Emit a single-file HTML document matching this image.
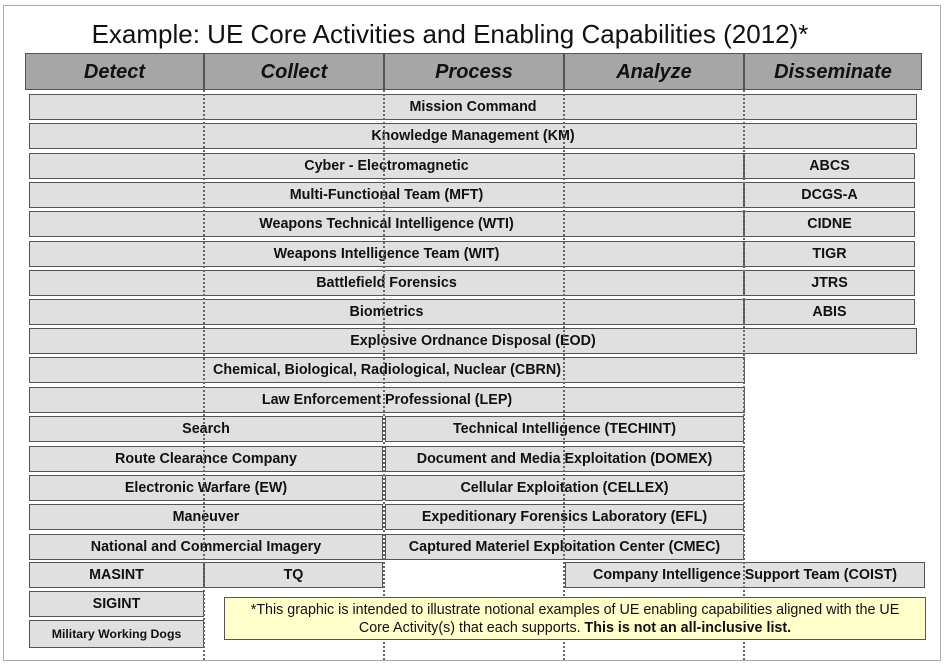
<!DOCTYPE html>
<html><head><meta charset="utf-8"><style>
body{margin:0;width:947px;height:667px;background:#fff;position:relative;overflow:hidden;font-family:"Liberation Sans",sans-serif}
.frame{position:absolute;left:3px;top:5px;width:938px;height:656px;border:1px solid #aaa;box-sizing:border-box}
.t{position:absolute;left:0;width:900px;top:19px;text-align:center;font-size:26px;letter-spacing:0px;color:#111}
.h{position:absolute;top:53px;height:37px;background:#a6a6a6;border:1.5px solid #555;box-sizing:border-box;font-weight:bold;font-style:italic;font-size:20px;text-align:center;line-height:37px;color:#111}
.b{position:absolute;height:26px;background:#e0e0e0;border:1.5px solid #555;box-sizing:border-box;font-weight:bold;font-size:14.3px;text-align:center;line-height:25px;color:#111}
.v{position:absolute;top:90px;height:570px;border-left:2.5px dotted #666;width:0}
.note{position:absolute;left:224px;top:597px;width:702px;height:43px;background:#ffffcc;border:1.5px solid #555;box-sizing:border-box;font-size:14.3px;text-align:center;line-height:18px;padding:3px 4px 0;color:#111}
</style></head><body>
<div class="frame"></div>
<div class="t">Example: UE Core Activities and Enabling Capabilities (2012)*</div>
<div class="h" style="left:25px;width:179px">Detect</div>
<div class="h" style="left:204px;width:180px">Collect</div>
<div class="h" style="left:384px;width:180px">Process</div>
<div class="h" style="left:564px;width:180px">Analyze</div>
<div class="h" style="left:744px;width:178px">Disseminate</div>

<div class="b" style="left:29px;top:94px;width:888px">Mission Command</div>
<div class="b" style="left:29px;top:123px;width:888px">Knowledge Management (KM)</div>
<div class="b" style="left:29px;top:153px;width:715px">Cyber - Electromagnetic</div>
<div class="b" style="left:744px;top:153px;width:171px">ABCS</div>
<div class="b" style="left:29px;top:182px;width:715px">Multi-Functional Team (MFT)</div>
<div class="b" style="left:744px;top:182px;width:171px">DCGS-A</div>
<div class="b" style="left:29px;top:211px;width:715px">Weapons Technical Intelligence (WTI)</div>
<div class="b" style="left:744px;top:211px;width:171px">CIDNE</div>
<div class="b" style="left:29px;top:241px;width:715px">Weapons Intelligence Team (WIT)</div>
<div class="b" style="left:744px;top:241px;width:171px">TIGR</div>
<div class="b" style="left:29px;top:270px;width:715px">Battlefield Forensics</div>
<div class="b" style="left:744px;top:270px;width:171px">JTRS</div>
<div class="b" style="left:29px;top:299px;width:715px">Biometrics</div>
<div class="b" style="left:744px;top:299px;width:171px">ABIS</div>
<div class="b" style="left:29px;top:328px;width:888px">Explosive Ordnance Disposal (EOD)</div>
<div class="b" style="left:29px;top:357px;width:716px">Chemical, Biological, Radiological, Nuclear (CBRN)</div>
<div class="b" style="left:29px;top:387px;width:716px">Law Enforcement Professional (LEP)</div>
<div class="b" style="left:29px;top:416px;width:354px">Search</div>
<div class="b" style="left:385px;top:416px;width:359px">Technical Intelligence (TECHINT)</div>
<div class="b" style="left:29px;top:446px;width:354px">Route Clearance Company</div>
<div class="b" style="left:385px;top:446px;width:359px">Document and Media Exploitation (DOMEX)</div>
<div class="b" style="left:29px;top:475px;width:354px">Electronic Warfare (EW)</div>
<div class="b" style="left:385px;top:475px;width:359px">Cellular Exploitation (CELLEX)</div>
<div class="b" style="left:29px;top:504px;width:354px">Maneuver</div>
<div class="b" style="left:385px;top:504px;width:359px">Expeditionary Forensics Laboratory (EFL)</div>
<div class="b" style="left:29px;top:534px;width:354px">National and Commercial Imagery</div>
<div class="b" style="left:385px;top:534px;width:359px">Captured Materiel Exploitation Center (CMEC)</div>
<div class="b" style="left:29px;top:562px;width:175px">MASINT</div>
<div class="b" style="left:204px;top:562px;width:179px">TQ</div>
<div class="b" style="left:565px;top:562px;width:360px">Company Intelligence Support Team (COIST)</div>
<div class="b" style="left:29px;top:591px;width:175px">SIGINT</div>
<div class="b" style="left:29px;top:620px;width:175px;height:28px;font-size:12.3px;line-height:27px">Military Working Dogs</div>

<div class="v" style="left:203px"></div>
<div class="v" style="left:383px"></div>
<div class="v" style="left:563px"></div>
<div class="v" style="left:743px"></div>

<div class="note">*This graphic is intended to illustrate notional examples of UE enabling capabilities aligned with the UE<br>Core Activity(s) that each supports. <b>This is not an all-inclusive list.</b></div>
</body></html>
